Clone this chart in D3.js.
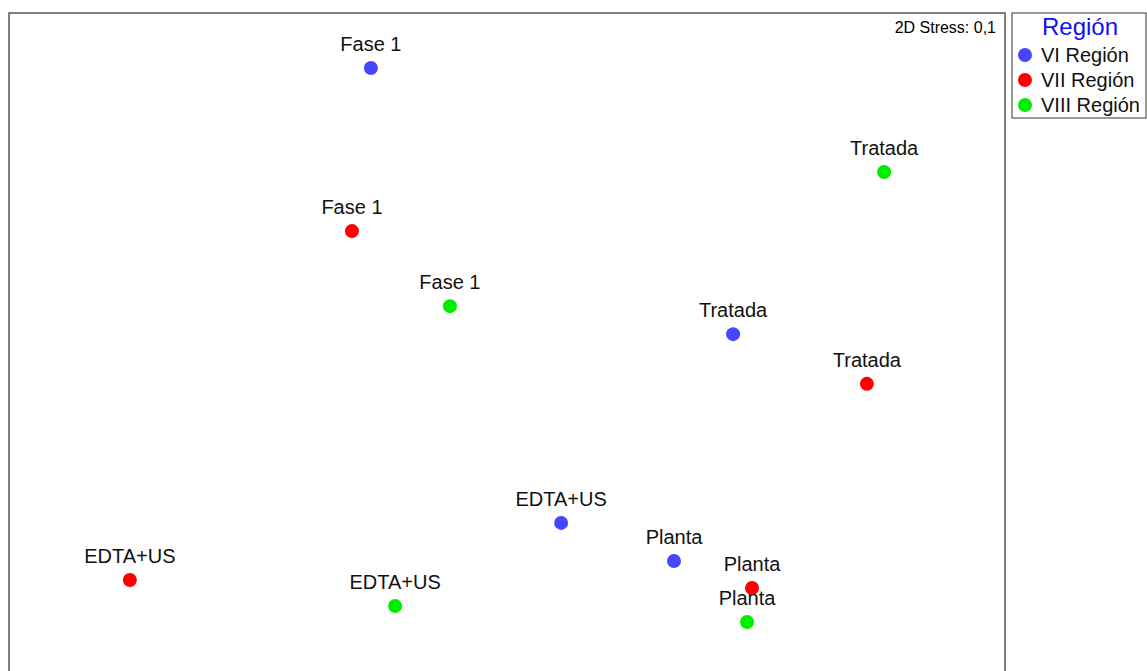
<!DOCTYPE html>
<html><head><meta charset="utf-8">
<script src="https://cdn.jsdelivr.net/npm/d3@7"></script>
<style>html,body{margin:0;padding:0;background:#fff;}svg{display:block;font-family:Arial,"Liberation Sans",sans-serif;}</style>
</head><body>
<script>
const regions = ["VI Región","VII Región","VIII Región"];
const regionColors = ["#4646ff","#ff0000","#00ee00"];
const labels = ["Fase 1","Tratada","EDTA+US","Planta",
                "Fase 1","Tratada","EDTA+US","Planta",
                "Fase 1","Tratada","EDTA+US","Planta"];
const pointRegion = [0,0,0,0, 1,1,1,1, 2,2,2,2];
const mdsX = [-0.410, 0.681, 0.163, 0.503,
              -0.467, 1.084, -1.136, 0.738,
              -0.172, 1.136, -0.337, 0.723];
const mdsY = [0.835, 0.037, -0.529, -0.643,
              0.346, -0.112, -0.700, -0.724,
              0.121, 0.523, -0.778, -0.826];
const stressText = "2D Stress: 0,1";
const legendTitle = "Región";

const W = 1147, H = 671;
const svg = d3.select("body").append("svg").attr("width", W).attr("height", H);

const plot = {x0: 9, y0: 13, x1: 1005, y1: 680};
const x = d3.scaleLinear().domain([-1.5, 1.5]).range([plot.x0, plot.x1]);
const y = d3.scaleLinear().domain([1, -1]).range([plot.y0, plot.y1]);

svg.append("rect").attr("x", plot.x0).attr("y", plot.y0)
  .attr("width", plot.x1 - plot.x0).attr("height", plot.y1 - plot.y0)
  .attr("fill", "none").attr("stroke", "#555").attr("stroke-width", 1.5);

svg.append("text").attr("x", 996).attr("y", 33).attr("text-anchor", "end")
  .attr("font-size", 16).attr("fill", "#000").text(stressText);

const data = labels.map((l, i) => ({label: l, r: pointRegion[i], x: mdsX[i], y: mdsY[i]}));

const g = svg.append("g");
g.selectAll("circle").data(data).enter().append("circle")
  .attr("cx", d => x(d.x)).attr("cy", d => y(d.y)).attr("r", 7)
  .attr("fill", d => regionColors[d.r]);
g.selectAll("text").data(data).enter().append("text")
  .attr("x", d => x(d.x)).attr("y", d => y(d.y) - 17)
  .attr("text-anchor", "middle").attr("font-size", 20).attr("fill", "#111")
  .text(d => d.label);

// legend
const lg = svg.append("g");
lg.append("rect").attr("x", 1012).attr("y", 13).attr("width", 134).attr("height", 105)
  .attr("fill", "#fff").attr("stroke", "#555").attr("stroke-width", 1.2);
lg.append("text").attr("x", 1080).attr("y", 35).attr("text-anchor", "middle")
  .attr("font-size", 24).attr("fill", "#1010ee").text(legendTitle);
regions.forEach((r, i) => {
  lg.append("circle").attr("cx", 1025).attr("cy", 55 + i * 25).attr("r", 7).attr("fill", regionColors[i]);
  lg.append("text").attr("x", 1041).attr("y", 62 + i * 25).attr("font-size", 20).attr("fill", "#111").text(r);
});
</script>
</body></html>
